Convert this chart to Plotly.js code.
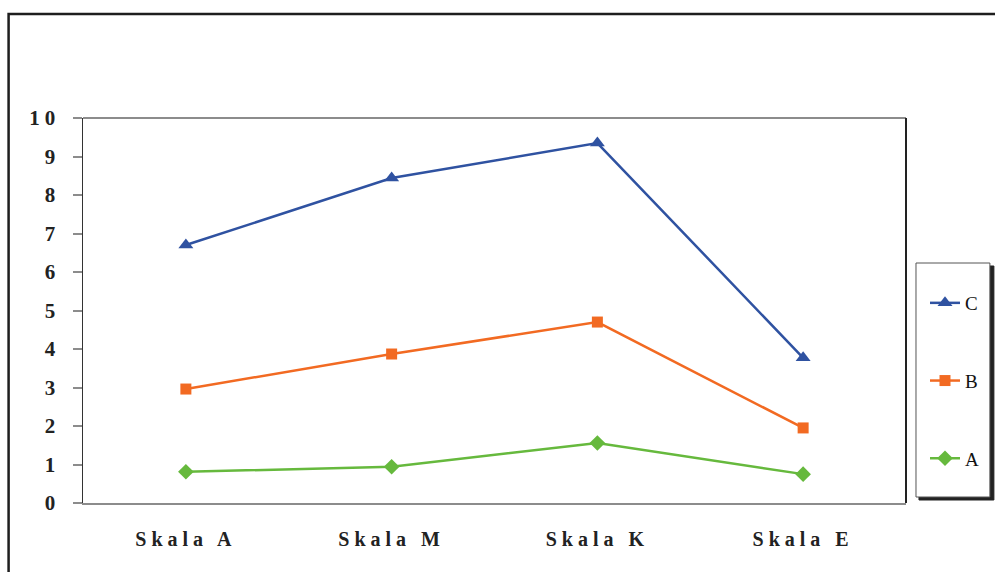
<!DOCTYPE html>
<html>
<head>
<meta charset="utf-8">
<script src="https://cdn.plot.ly/plotly-3.0.1.min.js"></script>
<style>
html, body { margin: 0; padding: 0; background: #fff; }
#chart { width: 995px; height: 572px; }
.xtick text { letter-spacing: 5px; }
.ytick text { letter-spacing: 5px; }
</style>
</head>
<body>
<div id="chart"></div>
<script>
const categories = ["Skala A", "Skala M", "Skala K", "Skala E"];
const seriesA = [0.81, 0.94, 1.56, 0.75];
const seriesB = [2.96, 3.87, 4.70, 1.95];
const seriesC = [6.70, 8.44, 9.35, 3.77];
const yTickVals = [0, 1, 2, 3, 4, 5, 6, 7, 8, 9, 10];
const yTickText = ["0", "1", "2", "3", "4", "5", "6", "7", "8", "9", "10"];

const serif = "Liberation Serif, Times New Roman, serif";

function mk(name, y, color, symbol, size) {
  return {
    type: "scatter", mode: "lines+markers", name: name, x: categories, y: y,
    legendgroup: name,
    line: { color: color, width: 2.5 },
    marker: { color: color, symbol: symbol, size: size }
  };
}

const data = [
  mk("C", seriesC, "#2F52A1", "triangle-up", 13),
  mk("B", seriesB, "#F26A22", "square", 11),
  mk("A", seriesA, "#66B93D", "diamond", 12)
];

const W = 995, H = 572, L = 83, R = 88, T = 118, B = 69;
const pw = W - L - R, ph = H - T - B;
const px = v => (v - L) / pw;
const py = v => (H - B - v) / ph;

const shapes = [
  { type: "rect", xref: "paper", yref: "paper", x0: px(8.5), x1: px(1010), y0: py(590), y1: py(14),
    line: { color: "#1e1e1e", width: 2.5 }, fillcolor: "rgba(0,0,0,0)", layer: "below" },
  { type: "line", xref: "paper", yref: "paper", x0: 0, x1: 1, y0: 1, y1: 1, line: { color: "#8c8c8c", width: 2 } },
  { type: "line", xref: "paper", yref: "paper", x0: 1, x1: 1, y0: 0, y1: 1, line: { color: "#222", width: 2 } },
  { type: "rect", xref: "paper", yref: "paper", x0: px(920), x1: px(995), y0: py(500), y1: py(266),
    line: { color: "#222", width: 1 }, fillcolor: "#222" },
  { type: "rect", xref: "paper", yref: "paper", x0: px(917), x1: px(991), y0: py(497), y1: py(263),
    line: { color: "#555", width: 1 }, fillcolor: "#fff" }
];

const layout = {
  width: W, height: H,
  margin: { l: L, r: R, t: T, b: B, pad: 0 },
  paper_bgcolor: "#fff", plot_bgcolor: "#fff",
  showlegend: true,
  legend: {
    x: px(925), xanchor: "left", y: py(284), yanchor: "top",
    bgcolor: "rgba(0,0,0,0)", borderwidth: 0,
    traceorder: "grouped", tracegroupgap: 50,
    font: { family: serif, size: 19, color: "#111" },
    itemwidth: 30
  },
  xaxis: {
    type: "category", range: [-0.5, 3.5], showgrid: false, zeroline: false,
    showline: true, linecolor: "#8c8c8c", linewidth: 2,
    ticks: "", ticklabelstandoff: 17,
    tickfont: { family: serif, size: 20, color: "#222", weight: "bold" },
    fixedrange: true
  },
  yaxis: {
    range: [0, 10], tickvals: yTickVals, ticktext: yTickText,
    showgrid: false, zeroline: false,
    showline: true, linecolor: "#333", linewidth: 1.5,
    ticks: "outside", ticklen: 9, tickcolor: "#8c8c8c", tickwidth: 2,
    ticklabelstandoff: 8,
    tickfont: { family: serif, size: 21, color: "#222", weight: "bold" },
    fixedrange: true
  },
  shapes: shapes
};

Plotly.newPlot("chart", data, layout, { displayModeBar: false, staticPlot: true });
</script>
</body>
</html>
